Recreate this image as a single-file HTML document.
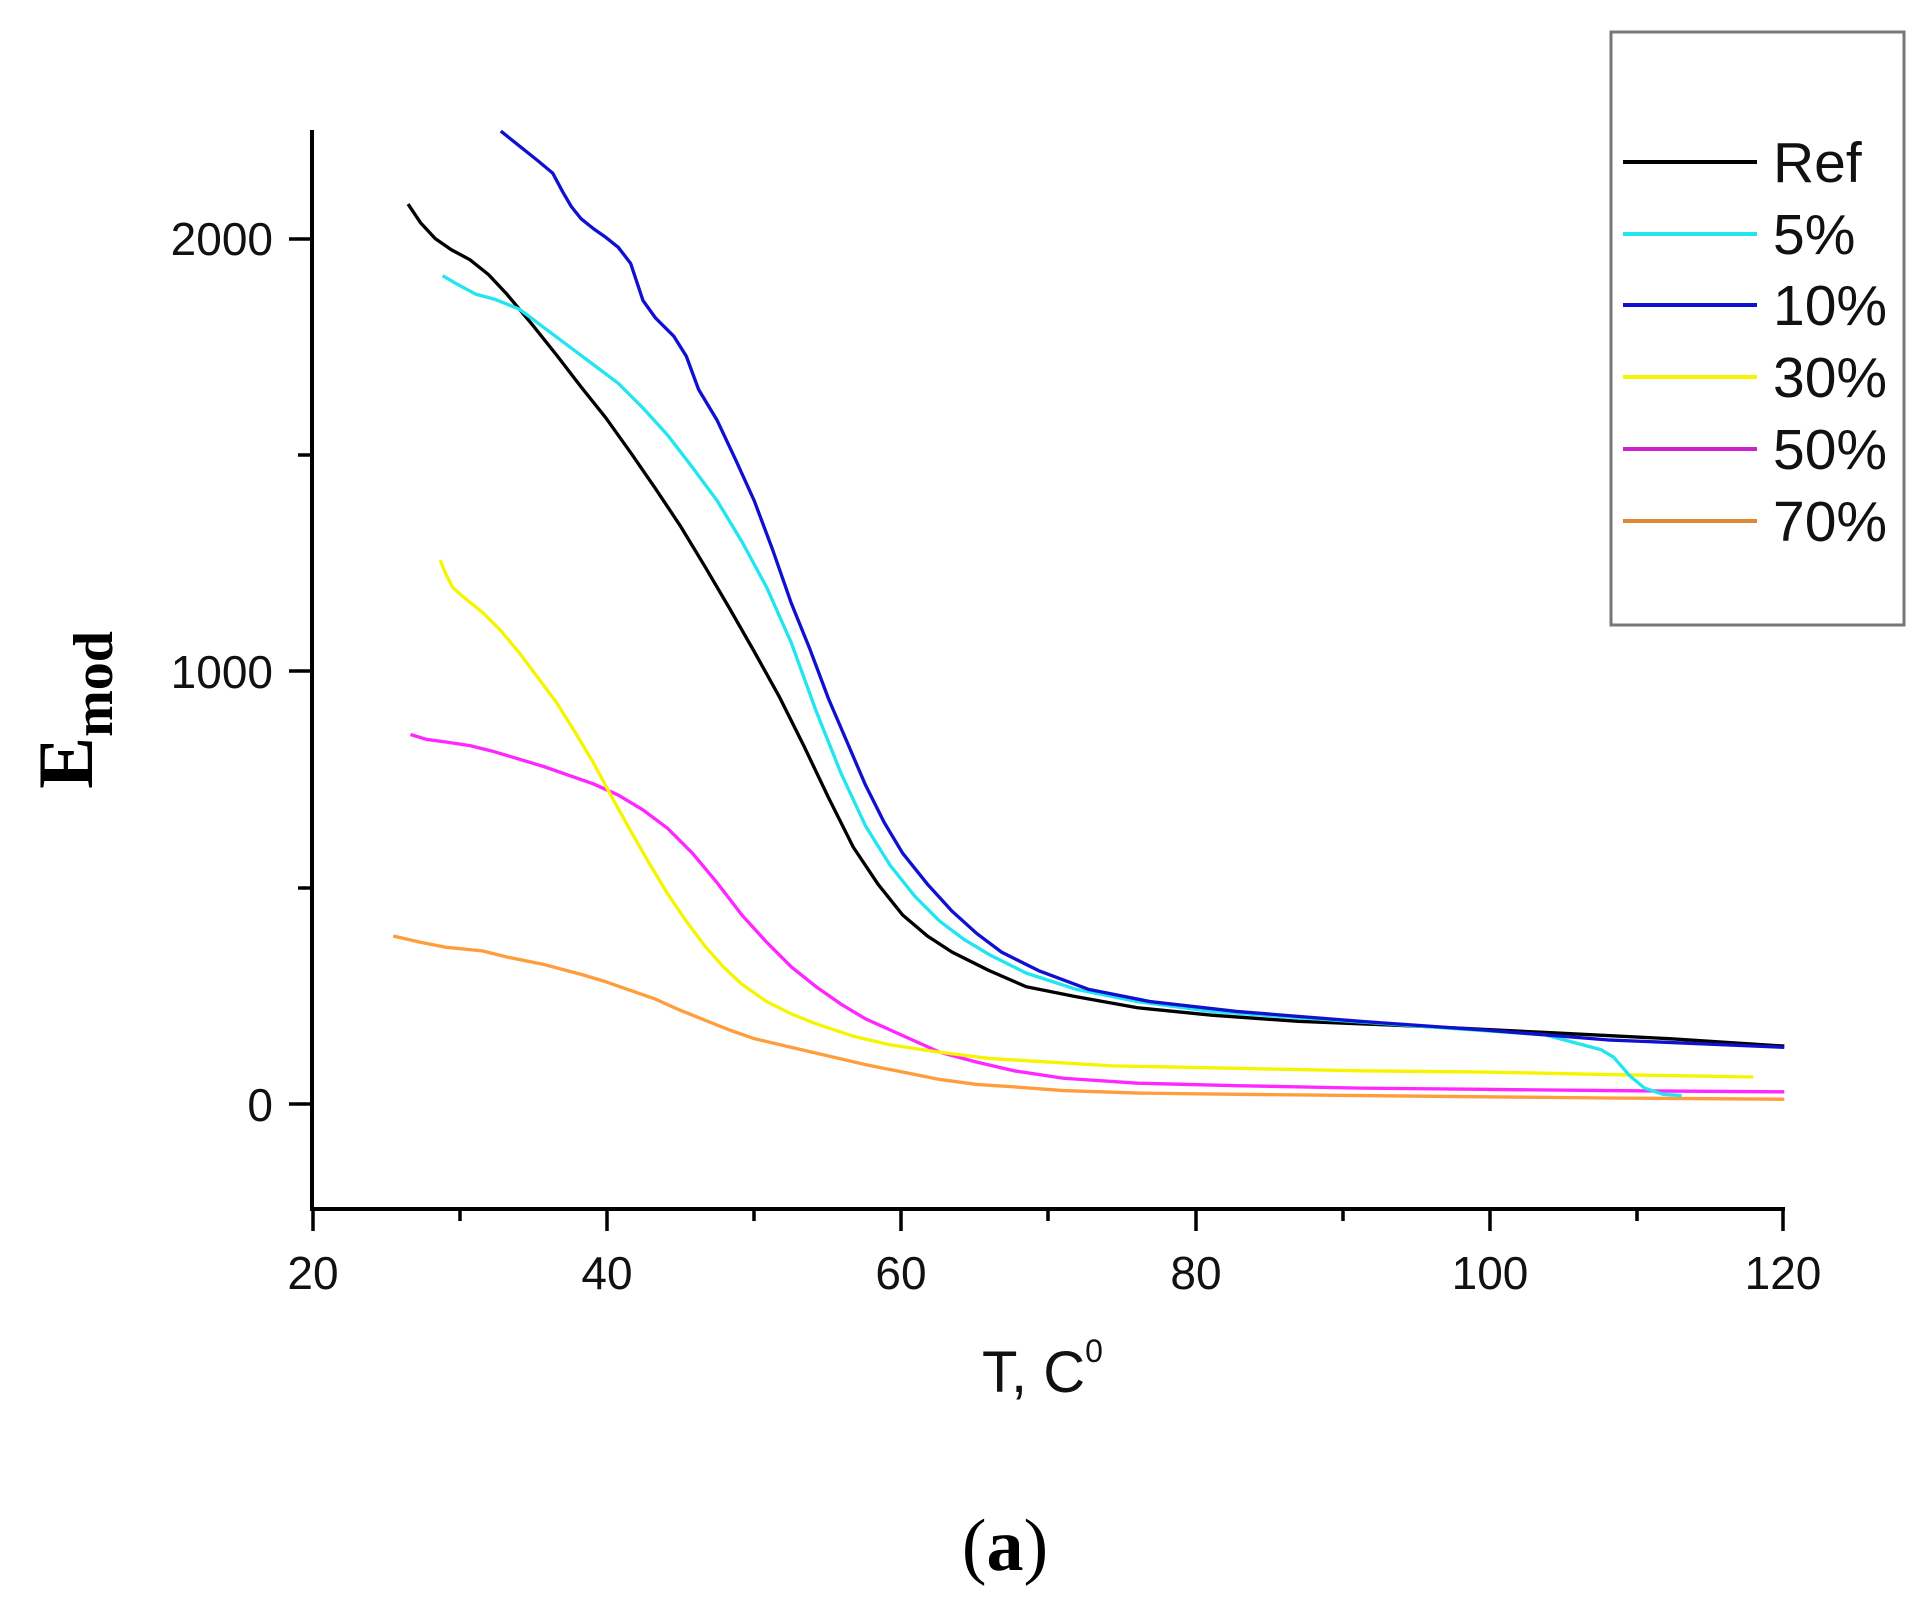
<!DOCTYPE html>
<html><head><meta charset="utf-8"><style>
html,body{margin:0;padding:0;background:#fff;}
svg{display:block;}
</style></head><body>
<svg width="1929" height="1606" viewBox="0 0 1929 1606" xmlns="http://www.w3.org/2000/svg">
<rect width="1929" height="1606" fill="#fff"/>
<g stroke="#000" stroke-width="4" fill="none">
<line x1="312" y1="130" x2="312" y2="1211"/>
<line x1="310" y1="1209" x2="1785" y2="1209"/>
<g stroke-width="3.5">
<line x1="313" y1="1209" x2="313" y2="1231"/>
<line x1="607" y1="1209" x2="607" y2="1231"/>
<line x1="901" y1="1209" x2="901" y2="1231"/>
<line x1="1196" y1="1209" x2="1196" y2="1231"/>
<line x1="1490" y1="1209" x2="1490" y2="1231"/>
<line x1="1783" y1="1209" x2="1783" y2="1231"/>
<line x1="460" y1="1209" x2="460" y2="1221"/>
<line x1="754" y1="1209" x2="754" y2="1221"/>
<line x1="1048" y1="1209" x2="1048" y2="1221"/>
<line x1="1343" y1="1209" x2="1343" y2="1221"/>
<line x1="1637" y1="1209" x2="1637" y2="1221"/>
<line x1="289" y1="1104" x2="312" y2="1104"/>
<line x1="289" y1="671" x2="312" y2="671"/>
<line x1="289" y1="239" x2="312" y2="239"/>
<line x1="298" y1="888" x2="312" y2="888"/>
<line x1="298" y1="455" x2="312" y2="455"/>
</g>
</g>
<g font-family="Liberation Sans, Arial, sans-serif" font-size="46" fill="#111">
<text x="273" y="255" text-anchor="end">2000</text>
<text x="273" y="688" text-anchor="end">1000</text>
<text x="273" y="1121" text-anchor="end">0</text>
<g text-anchor="middle">
<text x="313" y="1289">20</text>
<text x="607" y="1289">40</text>
<text x="901" y="1289">60</text>
<text x="1196" y="1289">80</text>
<text x="1490" y="1289">100</text>
<text x="1783" y="1289">120</text>
</g>
<text x="982" y="1392" font-size="58">T, C<tspan font-size="32" dy="-30">0</tspan></text>
</g>
<text transform="translate(92,710) rotate(-90)" text-anchor="middle" font-family="Liberation Serif, serif" font-weight="bold" font-size="78" fill="#000">E<tspan font-size="56" dy="20">mod</tspan></text>
<text x="1005" y="1570" text-anchor="middle" font-family="Liberation Serif, serif" font-size="74" fill="#000">(<tspan font-weight="bold">a</tspan>)</text>

<g transform="scale(1.2365)" fill="none" stroke-width="2.7" stroke-linejoin="round">
<polyline stroke="#ff8c1a" stroke-opacity="0.85" points="318,757 340,762 360,766 390,769 410,774 440,780 470,788 490,794 510,801 530,808 550,817 570,825 590,833 610,840 640,847 670,854 700,861 730,867 760,873 790,877 820,879 860,882 920,884 1000,885 1100,886 1200,887 1300,888 1443,889"/>
<polyline stroke="#ff00ff" stroke-opacity="0.85" points="332,594 345,598 360,600 380,603 400,608 420,614 440,620 460,627 480,634 500,643 520,655 540,670 560,690 580,714 600,740 620,762 640,782 660,798 680,812 700,824 720,833 740,842 760,851 790,859 820,866 860,872 920,876 1000,878 1100,880 1200,881 1300,882 1443,883"/>
<polyline stroke="#f5f500" points="356,453 360,463 366,475 375,483 390,495 405,510 420,528 435,548 450,568 465,592 480,617 495,645 510,672 525,698 540,723 555,745 570,765 585,782 600,796 620,810 640,820 660,828 690,838 720,845 760,851 800,856 850,859 900,862 1000,864 1100,866 1200,867 1300,869 1418,871"/>
<polyline stroke="#000" points="330,165 340,180 352,193 365,202 380,210 395,222 410,238 430,262 450,287 470,313 490,338 510,366 530,395 550,425 570,458 590,492 610,527 630,563 650,603 670,645 690,685 710,715 730,740 750,757 770,770 800,785 830,798 870,806 920,815 980,821 1050,826 1150,830 1250,835 1350,840 1443,846"/>
<polyline stroke="#22e5f0" points="358,223 370,230 385,238 400,242 420,250 440,265 460,280 480,295 500,310 520,330 540,352 560,378 580,405 600,438 620,475 640,520 660,575 680,625 700,668 720,700 740,725 760,745 780,760 800,772 830,787 870,800 920,810 980,818 1050,823 1150,830 1250,837 1295,849 1305,855 1318,870 1330,880 1345,885 1360,886"/>
<polyline stroke="#1010d0" points="405,106 420,118 435,130 447,140 455,155 462,167 470,177 480,185 490,192 500,200 510,213 520,243 530,257 545,272 555,288 565,315 580,340 595,372 610,405 625,445 640,488 655,525 670,565 685,600 700,635 715,665 730,690 750,715 770,737 790,755 810,770 840,785 880,800 930,810 1000,818 1100,826 1200,833 1300,841 1443,847"/>
</g>

<rect x="1611" y="32" width="293" height="593" fill="none" stroke="#777" stroke-width="3"/>
<g stroke-width="4">
<line x1="1623" y1="162" x2="1757" y2="162" stroke="#000"/>
<line x1="1623" y1="234" x2="1757" y2="234" stroke="#22e5f0"/>
<line x1="1623" y1="305" x2="1757" y2="305" stroke="#1010d0"/>
<line x1="1623" y1="377" x2="1757" y2="377" stroke="#f5f500"/>
<line x1="1623" y1="449" x2="1757" y2="449" stroke="#cc22cc"/>
<line x1="1623" y1="521" x2="1757" y2="521" stroke="#dd8833"/>
</g>
<g font-family="Liberation Sans, Arial, sans-serif" font-size="57" fill="#111">
<text x="1773" y="182">Ref</text>
<text x="1773" y="254">5%</text>
<text x="1773" y="325">10%</text>
<text x="1773" y="397">30%</text>
<text x="1773" y="469">50%</text>
<text x="1773" y="541">70%</text>
</g>
</svg>
</body></html>
